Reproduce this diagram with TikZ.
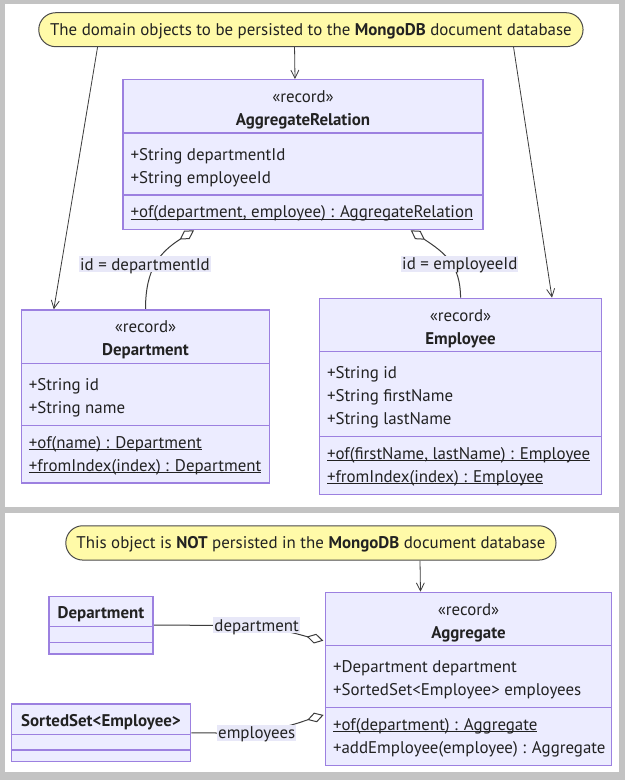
\documentclass[tikz,border=0pt]{standalone}
\usepackage{fontspec}
\setmainfont{PT Sans}
\usetikzlibrary{calc,arrows.meta}
\definecolor{pagegray}{HTML}{C3C3C3}
\definecolor{classfill}{HTML}{ECECFF}
\definecolor{classline}{HTML}{9C80E0}
\definecolor{notefill}{HTML}{FFFAA8}
\definecolor{noteline}{HTML}{4A4A4A}
\definecolor{labelfill}{HTML}{E8E8F8}
\definecolor{inkdark}{HTML}{222222}
\definecolor{edgeline}{HTML}{3C3C3C}
\def\umlfont{\fontsize{16.9}{20}\selectfont}
\def\ulined#1{\setbox0\hbox{#1}\rlap{\rule[-1.8pt]{\wd0}{0.9pt}}\box0}
\pgfdeclarelayer{paper}
\pgfdeclarelayer{edges}
\pgfsetlayers{paper,edges,main}

\begin{document}
\begin{tikzpicture}[x=1pt,y=-1pt,
		box/.style={draw=classline, fill=classfill, line width=1.3pt, anchor=north west, inner sep=0pt},
		divider/.style={draw=classline, line width=1.3pt},
		stereo/.style={anchor=base, inner sep=0pt, font=\umlfont, text=inkdark},
		cname/.style={anchor=base, inner sep=0pt, font=\umlfont\bfseries, text=inkdark},
		member/.style={anchor=base west, inner sep=0pt, font=\umlfont, text=inkdark},
		note/.style={draw=noteline, fill=notefill, line width=1pt, rounded corners=17pt, inner sep=0pt, text height=11.5pt, text depth=0pt, font=\umlfont, text=inkdark},
		elabel/.style={fill=labelfill, inner xsep=1pt, inner ysep=2.3pt, text height=11.5pt, text depth=0pt, font=\umlfont, text=inkdark},
		link/.style={draw=edgeline, line width=0.8pt, -{Straight Barb[length=8pt,width=8pt]}},
		aggr/.style={draw=edgeline, line width=1pt, -{Diamond[open,length=17pt,width=10pt]}}]
		%%%%% START %%%%%
		
		\useasboundingbox (0,0) rectangle (625,780);
		\begin{pgfonlayer}{paper}
			\fill[pagegray] (0,0) rectangle (625,780);
			\fill[white] (5,3.5) rectangle (619,507.3);
			\fill[white] (5,513) rectangle (619,771.7);
		\end{pgfonlayer}
		
		% persisted records
		\node[note, minimum width=544.3pt, minimum height=34pt] (noteTop) at (310.9,29.7) {The domain objects to be persisted to the \textbf{MongoDB} document database};
		
		\node[box, minimum width=359.9pt, minimum height=150pt] (aggrel) at (122.4,79) {};
		\draw[divider] ($(aggrel.north west)+(0,54)$) -- ($(aggrel.north east)+(0,54)$);
		\draw[divider] ($(aggrel.north west)+(0,116)$) -- ($(aggrel.north east)+(0,116)$);
		\node[stereo] (aggrelSt) at ($(aggrel.north)+(0,23.6)$) {«record»};
		\node[cname] (aggrelName) at ($(aggrel.north)+(0,46.5)$) {AggregateRelation};
		\node[member] (aggrelA1) at ($(aggrel.north west)+(8,81)$) {+String departmentId};
		\node[member] (aggrelA2) at ($(aggrel.north west)+(8,104)$) {+String employeeId};
		\node[member] (aggrelM1) at ($(aggrel.north west)+(8,138.8)$) {\ulined{+of(department, employee) : AggregateRelation}};
		
		\node[box, minimum width=248.3pt, minimum height=173pt] (dept) at (20.7,309.3) {};
		\draw[divider] ($(dept.north west)+(0,54)$) -- ($(dept.north east)+(0,54)$);
		\draw[divider] ($(dept.north west)+(0,116)$) -- ($(dept.north east)+(0,116)$);
		\node[stereo] (deptSt) at ($(dept.north)+(0,23.6)$) {«record»};
		\node[cname] (deptName) at ($(dept.north)+(0,46.5)$) {Department};
		\node[member] (deptA1) at ($(dept.north west)+(8,81)$) {+String id};
		\node[member] (deptA2) at ($(dept.north west)+(8,104)$) {+String name};
		\node[member] (deptM1) at ($(dept.north west)+(8,138.8)$) {\ulined{+of(name) : Department}};
		\node[member] (deptM2) at ($(dept.north west)+(8,161.8)$) {\ulined{+fromIndex(index) : Department}};
		
		\node[box, minimum width=282.2pt, minimum height=196pt] (emp) at (318.8,297.7) {};
		\draw[divider] ($(emp.north west)+(0,54)$) -- ($(emp.north east)+(0,54)$);
		\draw[divider] ($(emp.north west)+(0,139)$) -- ($(emp.north east)+(0,139)$);
		\node[stereo] (empSt) at ($(emp.north)+(0,23.6)$) {«record»};
		\node[cname] (empName) at ($(emp.north)+(0,46.5)$) {Employee};
		\node[member] (empA1) at ($(emp.north west)+(8,81)$) {+String id};
		\node[member] (empA2) at ($(emp.north west)+(8,104)$) {+String firstName};
		\node[member] (empA3) at ($(emp.north west)+(8,127)$) {+String lastName};
		\node[member] (empM1) at ($(emp.north west)+(8,161.8)$) {\ulined{+of(firstName, lastName) : Employee}};
		\node[member] (empM2) at ($(emp.north west)+(8,184.8)$) {\ulined{+fromIndex(index) : Employee}};
		
		\node[elabel] (lblDeptId) at (145,264.4) {id = departmentId};
		\node[elabel] (lblEmpId) at (459.8,264.2) {id = employeeId};
		
		% not persisted
		\node[note, minimum width=490.2pt, minimum height=34.3pt] (noteBot) at (310.9,542.9) {This object is \textbf{NOT} persisted in the \textbf{MongoDB} document database};
		
		\node[box, minimum width=286.2pt, minimum height=173pt] (aggr) at (324.8,591.7) {};
		\draw[divider] ($(aggr.north west)+(0,54)$) -- ($(aggr.north east)+(0,54)$);
		\draw[divider] ($(aggr.north west)+(0,116)$) -- ($(aggr.north east)+(0,116)$);
		\node[stereo] (aggrSt) at ($(aggr.north)+(0,23.6)$) {«record»};
		\node[cname] (aggrName) at ($(aggr.north)+(0,46.5)$) {Aggregate};
		\node[member] (aggrA1) at ($(aggr.north west)+(8,81)$) {+Department department};
		\node[member] (aggrA2) at ($(aggr.north west)+(8,104)$) {+SortedSet<Employee> employees};
		\node[member] (aggrM1) at ($(aggr.north west)+(8,138.8)$) {\ulined{+of(department) : Aggregate}};
		\node[member] (aggrM2) at ($(aggr.north west)+(8,161.8)$) {+addEmployee(employee) : Aggregate};
		
		\node[box, minimum width=104pt, minimum height=57.6pt] (smDept) at (48.3,595.7) {};
		\draw[divider] ($(smDept.north west)+(0,31)$) -- ($(smDept.north east)+(0,31)$);
		\draw[divider] ($(smDept.north west)+(0,46.6)$) -- ($(smDept.north east)+(0,46.6)$);
		\node[cname] (smDeptName) at ($(smDept.north)+(0,22.5)$) {Department};
		
		\node[box, minimum width=179.3pt, minimum height=57.7pt] (smSet) at (10.7,703.3) {};
		\draw[divider] ($(smSet.north west)+(0,31)$) -- ($(smSet.north east)+(0,31)$);
		\draw[divider] ($(smSet.north west)+(0,46.7)$) -- ($(smSet.north east)+(0,46.7)$);
		\node[cname] (smSetName) at ($(smSet.north)+(0,22.9)$) {SortedSet<Employee>};
		
		\node[elabel] (lblDep) at (256.7,625.3) {department};
		\node[elabel] (lblEmps) at (256.7,733) {employees};
		
		% connectors
		\begin{pgfonlayer}{edges}
			\draw[link] ($(noteTop.south west)+(59.3,0)$) -- ($(dept.north west)+(33.1,0)$);
			\draw[link] ($(noteTop.south west)+(256.3,0)$) -- ($(aggrel.north west)+(172.6,0)$);
			\draw[link] ($(noteTop.south west)+(475.3,0)$) -- ($(emp.north west)+(233.2,0)$);
			\draw[aggr] (dept.north) .. controls +(0,-40) and +(-35,22.5) .. ($(aggrel.south west)+(71.6,0)$);
			\draw[aggr] (emp.north) .. controls +(0,-33) and +(34,22.5) .. ($(aggrel.south west)+(288.3,0)$);
			
			\draw[link] ($(noteBot.south west)+(354.7,0)$) -- ($(aggr.north west)+(95.7,0)$);
			\draw[aggr] (smDept.east) -- (lblDep.west) .. controls +(60,0) and +(-24,-6) .. ($(aggr.north west)+(-1.5,49)$);
			\draw[aggr] (smSet.east) -- (lblEmps.west) .. controls +(60,0) and +(-24,7.2) .. ($(aggr.north west)+(-1.2,123.3)$);
		\end{pgfonlayer}
		
		%%%%% END %%%%%
	\end{tikzpicture}
\end{document}
